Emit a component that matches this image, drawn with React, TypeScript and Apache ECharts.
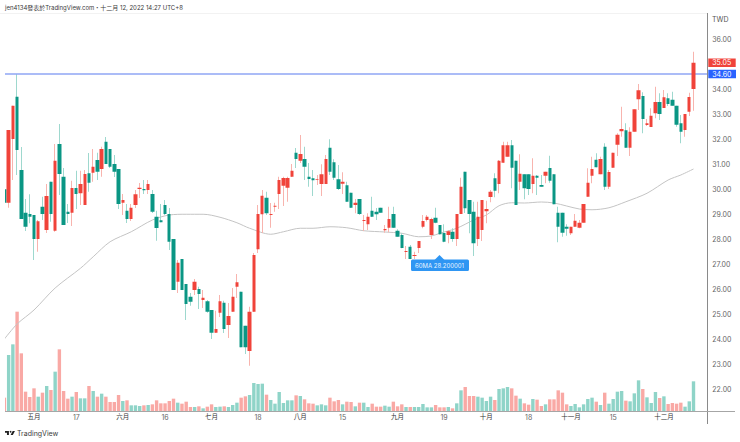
import React, { useEffect, useRef } from "react";
import * as echarts from "echarts";

const FONT = "Inter, 'Noto Sans CJK TC', sans-serif";
const UP = "#f0433a";
const DOWN = "#0a9684";
const UP_WICK = "#f8b4ae";
const DOWN_WICK = "#9ed8ce";
const VOL_UP = "#8fd4c8";
const VOL_DOWN = "#f9a9a5";

// [open, close, low, high]
const candles: number[][] = [
  [29.99, 29.45, 29.45, 29.99], [29.45, 32.36, 29.25, 32.36], [32.0, 33.33, 30.36, 33.33], [33.69, 31.56, 30.56, 34.6],
  [30.76, 28.8, 28.8, 31.68], [29.05, 28.49, 28.32, 29.6], [29.0, 28.89, 28.63, 29.79], [28.96, 28.0, 27.16, 28.96],
  [28.0, 28.71, 27.49, 28.76], [29.29, 29.0, 28.76, 29.69], [28.36, 29.72, 28.24, 30.2], [30.29, 29.0, 28.69, 30.29],
  [28.33, 31.13, 28.29, 31.8], [31.8, 30.6, 29.76, 32.6], [30.49, 28.56, 28.56, 30.84], [29.09, 29.0, 28.64, 29.4],
  [29.05, 30.04, 28.52, 30.33], [30.04, 29.8, 29.2, 30.73], [29.83, 30.2, 29.36, 30.73], [29.36, 30.6, 29.36, 30.76],
  [30.63, 30.25, 29.89, 31.44], [30.65, 30.89, 30.29, 31.6], [31.16, 30.69, 30.36, 31.45], [30.8, 31.6, 30.49, 31.69],
  [31.89, 31.0, 31.0, 32.08], [31.6, 30.89, 30.84, 31.6], [31.0, 30.69, 30.48, 31.36], [30.8, 29.4, 29.2, 30.8],
  [29.45, 29.56, 28.96, 29.8], [29.13, 28.8, 28.64, 29.4], [28.8, 29.25, 28.72, 29.4], [29.36, 29.79, 29.24, 29.96],
  [30.0, 30.05, 29.64, 30.24], [30.0, 29.95, 29.8, 30.36], [29.96, 30.2, 29.8, 30.36], [29.8, 29.09, 29.04, 29.96],
  [28.89, 28.44, 27.93, 29.13], [28.75, 28.67, 28.67, 29.4], [29.36, 29.0, 28.96, 29.56], [29.0, 27.89, 27.56, 29.24],
  [28.0, 25.96, 25.96, 28.0], [26.29, 27.05, 25.84, 27.16], [27.2, 25.96, 25.96, 27.2], [26.2, 25.4, 24.76, 26.2],
  [25.69, 25.49, 25.33, 25.84], [25.96, 26.29, 25.76, 26.4], [26.0, 25.8, 25.2, 26.09], [25.56, 25.65, 25.24, 25.96],
  [25.51, 25.09, 25.05, 25.56], [25.16, 24.25, 24.0, 25.16], [24.25, 24.4, 24.25, 25.13], [25.05, 25.51, 24.88, 25.76],
  [25.45, 24.4, 24.24, 25.53], [24.56, 24.92, 24.04, 25.44], [25.09, 25.69, 25.09, 26.04], [26.09, 26.27, 25.64, 26.6],
  [25.89, 23.67, 23.67, 25.89], [24.53, 23.67, 23.4, 24.53], [23.52, 25.09, 22.93, 25.29], [25.09, 27.36, 25.09, 27.44],
  [27.59, 29.0, 27.44, 29.36], [28.99, 29.73, 28.24, 29.96], [29.65, 29.03, 28.96, 29.89], [28.96, 29.0, 28.45, 29.44],
  [29.29, 29.33, 29.09, 29.45], [29.8, 30.36, 29.2, 30.49], [30.13, 30.44, 29.32, 30.49], [30.05, 30.44, 29.49, 30.49],
  [30.49, 30.73, 30.48, 31.0], [31.45, 31.2, 30.84, 31.64], [31.13, 31.4, 31.04, 32.16], [31.2, 30.89, 30.36, 31.69],
  [30.49, 30.4, 30.09, 31.04], [30.43, 30.35, 29.72, 30.76], [30.37, 30.4, 30.16, 30.56], [30.2, 30.59, 29.72, 30.99],
  [30.2, 31.2, 30.2, 31.36], [31.65, 30.69, 30.56, 31.99], [31.07, 30.45, 30.36, 31.19], [30.39, 30.0, 29.96, 30.96],
  [30.21, 30.29, 29.8, 30.67], [30.15, 29.49, 29.49, 30.29], [29.85, 29.25, 29.24, 29.85], [29.36, 29.45, 29.03, 29.6],
  [29.6, 29.0, 28.96, 29.6], [28.72, 28.76, 28.32, 28.96], [28.59, 28.89, 28.36, 29.03], [29.13, 28.89, 28.88, 29.69],
  [29.09, 28.99, 28.76, 29.24], [29.25, 29.05, 29.05, 29.25], [28.35, 28.4, 28.25, 28.56], [28.45, 28.8, 28.27, 29.29],
  [29.0, 28.45, 28.44, 29.29], [28.33, 28.09, 28.09, 28.39], [28.16, 27.64, 27.63, 28.23], [27.48, 27.52, 27.2, 27.72],
  [27.69, 27.2, 27.2, 27.76], [27.32, 27.36, 27.2, 27.49], [27.64, 27.92, 27.44, 27.92], [28.49, 28.72, 28.43, 28.96],
  [28.76, 28.89, 28.7, 28.96], [28.16, 28.8, 28.0, 28.85], [28.85, 28.65, 28.63, 29.25], [28.56, 28.19, 28.18, 28.56],
  [28.24, 27.89, 27.87, 28.59], [28.16, 28.31, 27.83, 28.36], [28.29, 28.0, 27.89, 28.43], [28.0, 29.0, 27.72, 29.0],
  [29.0, 30.09, 29.0, 30.45], [30.69, 29.23, 29.04, 30.69], [29.56, 29.0, 28.23, 29.56], [29.09, 27.83, 27.32, 29.49],
  [28.0, 28.89, 27.72, 29.49], [28.36, 29.56, 27.92, 29.56], [29.11, 29.2, 28.63, 29.53], [29.68, 29.89, 29.47, 29.96],
  [30.43, 29.93, 29.67, 30.63], [30.2, 31.13, 29.83, 31.16], [31.05, 31.75, 31.05, 31.89], [31.29, 31.75, 31.29, 31.89],
  [31.75, 30.85, 30.03, 31.96], [31.13, 29.36, 29.36, 31.13], [30.29, 30.61, 29.96, 31.39], [30.59, 30.03, 29.59, 30.59],
  [30.59, 30.0, 29.76, 30.59], [30.2, 30.53, 29.83, 31.23], [30.53, 30.45, 29.76, 30.56], [30.16, 30.09, 30.09, 30.56],
  [30.53, 30.69, 30.23, 30.69], [30.84, 30.33, 30.25, 31.33], [30.59, 29.39, 29.39, 30.59], [29.05, 28.49, 27.87, 29.29],
  [29.05, 28.25, 28.09, 29.05], [28.49, 28.41, 28.13, 28.59], [28.23, 28.49, 28.16, 28.49], [28.49, 28.73, 28.49, 29.0],
  [28.45, 28.65, 28.43, 28.76], [28.65, 29.4, 28.65, 29.4], [29.69, 30.25, 29.69, 30.83], [30.53, 30.8, 30.23, 31.29],
  [31.17, 30.87, 30.87, 31.43], [30.59, 31.2, 30.59, 31.29], [31.69, 30.09, 29.96, 31.83], [30.09, 30.68, 30.0, 30.76],
  [30.85, 31.45, 30.85, 31.45], [31.77, 32.17, 31.32, 32.23], [32.31, 32.4, 32.09, 33.29], [32.35, 31.65, 31.65, 32.63],
  [31.65, 32.29, 31.32, 32.47], [32.29, 33.19, 32.29, 33.19], [33.59, 33.95, 33.16, 34.2], [33.72, 32.8, 32.23, 33.87],
  [32.56, 32.63, 32.52, 32.8], [32.48, 32.93, 32.48, 33.23], [33.03, 33.48, 32.83, 34.09], [33.48, 33.0, 32.76, 33.83],
  [33.24, 33.67, 33.24, 33.96], [33.63, 33.4, 33.32, 33.83], [33.57, 33.33, 33.33, 33.89], [33.33, 32.57, 32.49, 33.33],
  [32.63, 32.29, 31.83, 32.96], [32.36, 33.0, 32.09, 33.0], [33.09, 33.68, 32.92, 33.85], [34.0, 35.05, 33.13, 35.49],
];

// volume, in the picture's own scale (no axis is shown for it)
const volumes = [
  40, 168, 200, 298, 173, 58, 42, 68, 43, 55, 75, 63, 118, 185, 60, 37, 43, 57, 38, 38,
  75, 60, 43, 52, 43, 27, 27, 48, 30, 32, 17, 17, 15, 17, 18, 20, 32, 23, 23, 30,
  37, 25, 22, 28, 12, 12, 14, 8, 13, 20, 12, 13, 14, 12, 18, 25, 40, 44, 48, 84,
  81, 82, 49, 33, 22, 57, 24, 32, 32, 47, 45, 35, 23, 22, 17, 20, 17, 40, 29, 33,
  20, 28, 27, 14, 25, 25, 12, 22, 13, 13, 16, 13, 28, 14, 20, 12, 12, 12, 12, 21,
  11, 11, 18, 11, 11, 12, 8, 23, 62, 72, 45, 45, 43, 40, 30, 43, 33, 66, 68, 72,
  68, 46, 37, 23, 19, 36, 34, 15, 20, 35, 35, 62, 55, 20, 15, 21, 11, 20, 36, 40,
  28, 18, 55, 22, 36, 58, 60, 31, 29, 53, 92, 66, 41, 24, 57, 39, 44, 21, 24, 22,
  25, 13, 29, 89,
];

// 60MA, [bar index, price], read at the bends of the curve
const maPoints = [
  [0, 24.0], [3, 24.6], [7, 25.16], [12, 26.04], [18, 26.83], [21, 27.29], [25, 27.89], [30, 28.29],
  [35, 28.76], [39, 28.96], [43, 28.99], [47, 28.99], [51, 28.87], [55, 28.65], [58, 28.43], [63, 28.19],
  [66, 28.29], [70, 28.43], [73, 28.43], [77, 28.49], [81, 28.45], [85, 28.33], [90, 28.28], [94, 28.23],
  [98, 28.09], [101, 28.12], [103, 28.23], [107, 28.43], [111, 28.76], [114, 28.96], [117, 29.33], [120, 29.45],
  [123, 29.44], [127, 29.48], [130, 29.44], [133, 29.32], [136, 29.2], [139, 29.17], [143, 29.25], [147, 29.49],
  [152, 29.83], [157, 30.36], [160, 30.56], [163, 30.8],
];

// bar index of each time label
const xLabelAt: Record<number, string> = {
  7: "五月", 17: "17", 28: "六月", 38: "16", 49: "七月", 60: "18", 70: "八月", 80: "15",
  93: "九月", 104: "19", 114: "十月", 124: "18", 134: "十一月", 144: "15", 156: "十二月",
};
const priceTicks = [22, 23, 24, 25, 26, 27, 28, 29, 30, 31, 32, 33, 34, 35, 36];
const lastPrice = 35.05;
const alertPrice = 34.6;
const BAR_SLOTS = 167; // bars plus the empty room to the right of the last one

const categories = Array.from({ length: BAR_SLOTS }, (_, i) => xLabelAt[i] ?? "");

echarts.graphic.registerShape(
  "tvMark",
  echarts.graphic.extendPath("M14 6H0v6h7v8h7V6ZM28 20h-8l7.5-14h8L28 20Z", {})
);

const App: React.FC = () => {
  const chartRef = useRef<HTMLDivElement>(null);

  useEffect(() => {
    if (!chartRef.current) return;
    document.body.style.margin = "0";

    const chart = echarts.init(chartRef.current, undefined, { renderer: "svg" });

    const tag = (price: number, bg: string) => ({
      yAxis: price,
      label: {
        show: true,
        position: "end",
        distance: 0,
        formatter: price.toFixed(2),
        color: "#fff",
        fontFamily: FONT,
        fontSize: 7,
        backgroundColor: bg,
        padding: [1, 4.5, 0.5, 4],
      },
    });

    const option: any = {
      animation: false,
      backgroundColor: "#fff",
      textStyle: { fontFamily: FONT },
      grid: [
        { left: 2.3, width: 706, top: 14, bottom: 28 },
        { left: 2.3, width: 706, top: 301, bottom: 31 },
      ],
      xAxis: [
        { type: "category", gridIndex: 0, data: categories, show: false },
        {
          type: "category",
          gridIndex: 1,
          data: categories,
          axisLine: { show: false },
          axisTick: { show: false },
          axisLabel: {
            interval: (i: number) => xLabelAt[i] !== undefined,
            hideOverlap: false,
            margin: 3,
            fontFamily: FONT,
            fontSize: 7,
            color: "#555",
            formatter: (v: string) => (/\d/.test(v) ? `{n|${v}}` : `{m|${v}}`),
            rich: {
              n: { fontFamily: FONT, fontSize: 7, color: "#666" },
              m: { fontFamily: FONT, fontSize: 6.5, color: "#333" },
            },
          },
        },
      ],
      yAxis: [
        {
          type: "value",
          gridIndex: 0,
          position: "right",
          min: 21,
          max: 37,
          interval: 1,
          splitLine: { show: false },
          axisLine: { show: false },
          axisTick: { show: false },
          axisLabel: {
            customValues: priceTicks,
            margin: 4,
            fontFamily: FONT,
            fontSize: 7,
            color: "#666",
            formatter: (v: number) => v.toFixed(2),
          },
        },
        { type: "value", gridIndex: 1, min: 0, max: 330, show: false },
      ],
      series: [
        {
          name: "Volume",
          type: "bar",
          xAxisIndex: 1,
          yAxisIndex: 1,
          barWidth: 3.4,
          data: volumes.map((v, i) => ({
            value: v,
            itemStyle: { color: candles[i][1] >= candles[i][0] ? VOL_UP : VOL_DOWN },
          })),
        },
        {
          name: "60MA",
          type: "line",
          xAxisIndex: 0,
          yAxisIndex: 0,
          smooth: 0.3,
          showSymbol: false,
          z: 3,
          lineStyle: { color: "#c4c4c4", width: 1 },
          data: maPoints,
        },
        {
          // pale wicks; the solid bodies sit on top of them in the next series
          name: "Wicks",
          type: "candlestick",
          xAxisIndex: 0,
          yAxisIndex: 0,
          barWidth: 1,
          z: 4,
          itemStyle: { color: UP_WICK, color0: DOWN_WICK, borderColor: UP_WICK, borderColor0: DOWN_WICK, borderWidth: 1 },
          data: candles,
          markLine: {
            silent: true,
            symbol: "none",
            animation: false,
            lineStyle: { color: "#8fa6f4", width: 1.5, type: "solid" },
            data: [
              { ...tag(lastPrice, "#f0433a"), lineStyle: { color: "transparent", width: 0 } },
              tag(alertPrice, "#2962ff"),
            ],
          },
        },
        {
          name: "Bodies",
          type: "candlestick",
          xAxisIndex: 0,
          yAxisIndex: 0,
          barWidth: 3.9,
          z: 5,
          itemStyle: { color: UP, color0: DOWN, borderColor: UP, borderColor0: DOWN, borderWidth: 0 },
          data: candles.map(([o, c]) => [o, c, Math.min(o, c), Math.max(o, c)]),
        },
      ],
      graphic: [
        // pane edge: the first bar is cut off by it
        { type: "rect", z: 100, shape: { x: 0, y: 14, width: 5, height: 399 }, style: { fill: "#fff" } },
        { type: "line", z: 101, shape: { x1: 0, y1: 13.5, x2: 707, y2: 13.5 }, style: { stroke: "#f2f2f2", lineWidth: 1 } },
        { type: "line", z: 101, shape: { x1: 707.5, y1: 13, x2: 707.5, y2: 424 }, style: { stroke: "#8a8a8a", lineWidth: 1 } },
        { type: "line", z: 101, shape: { x1: 5, y1: 411.5, x2: 735, y2: 411.5 }, style: { stroke: "#a6a6a6", lineWidth: 1 } },
        {
          type: "text",
          z: 101,
          x: 5,
          y: 4.5,
          style: { text: "jen4134發表於TradingView.com・十二月 12, 2022 14:27 UTC+8", fontFamily: FONT, fontSize: 6, fill: "#3a3a3a" },
        },
        { type: "text", z: 101, x: 712, y: 15.5, style: { text: "TWD", fontFamily: FONT, fontSize: 7, fill: "#555" } },
        {
          // callout under the moving average
          type: "polygon",
          z: 101,
          shape: { points: [[434.5, 260], [439.5, 255], [444.5, 260]] },
          style: { fill: "#2f96f3" },
        },
        { type: "rect", z: 101, shape: { x: 411, y: 259.5, width: 58, height: 11.5, r: 1.5 }, style: { fill: "#2f96f3" } },
        {
          type: "text",
          z: 102,
          x: 415,
          y: 262,
          style: { text: "60MA 28.200001", fontFamily: FONT, fontSize: 6, fill: "#e8f4ff" },
        },
        // TradingView mark
        { type: "tvMark", z: 101, x: 5, y: 429.3, scaleX: 0.28, scaleY: 0.28, style: { fill: "#222" } },
        { type: "circle", z: 101, shape: { cx: 10.6, cy: 431.8, r: 0.85 }, style: { fill: "#222" } },
        { type: "text", z: 101, x: 17, y: 429.5, style: { text: "TradingView", fontFamily: FONT, fontSize: 7, fill: "#3a3a3a" } },
      ],
    };

    chart.setOption(option);

    return () => {
      chart.dispose();
    };
  }, []);

  return <div ref={chartRef} style={{ width: 740, height: 442 }} />;
};

export default App;
